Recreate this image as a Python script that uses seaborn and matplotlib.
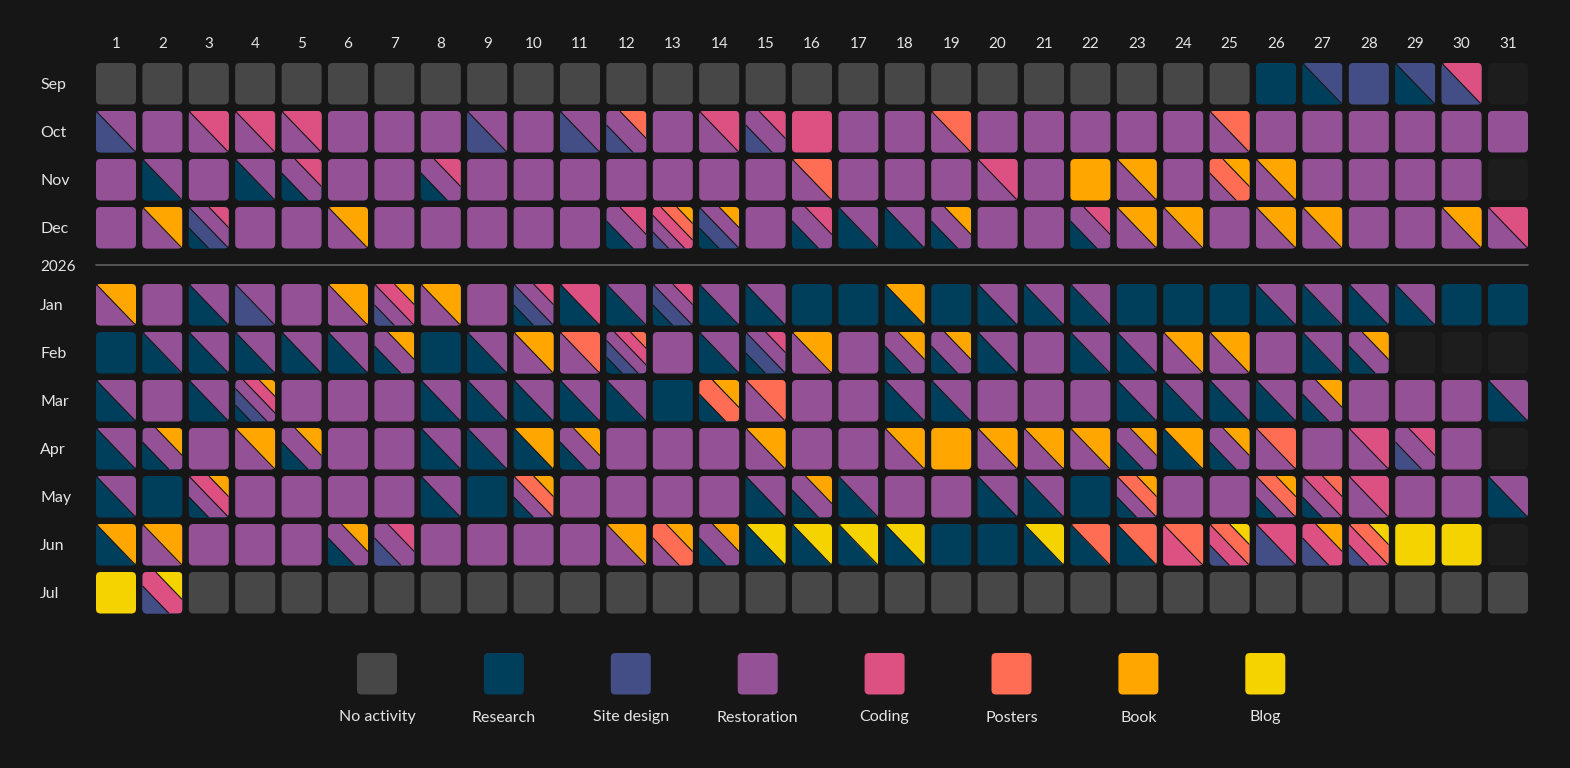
import matplotlib
matplotlib.use("Agg")
import matplotlib.pyplot as plt
from matplotlib.patches import FancyBboxPatch, Polygon
from matplotlib.lines import Line2D
import seaborn as sns

# ---------------- data ----------------
categories = ["No activity", "Research", "Site design", "Restoration",
              "Coding", "Posters", "Book", "Blog"]
codes = ["-", "R", "S", "T", "C", "P", "B", "L"]
palette = ["#474747", "#003f5c", "#444e86", "#955196",
           "#dd5182", "#ff6e54", "#ffa600", "#f5d300"]
months = ["Sep", "Oct", "Nov", "Dec", "Jan", "Feb", "Mar", "Apr", "May", "Jun", "Jul"]
day_labels = list(range(1, 32))
year_label = "2026"

sep = ["-"] * 25 + ["R", "RS", "S", "RS", "SC"]
oct_ = ["ST", "T", "TC", "TC", "TC", "T", "T", "T", "ST", "T",
        "ST", "STP", "T", "TC", "STC", "C", "T", "T", "TP", "T",
        "T", "T", "T", "T", "TP", "T", "T", "T", "T", "T", "T"]
nov = ["T", "RT", "T", "RT", "RTC", "T", "T", "RTC", "T", "T",
       "T", "T", "T", "T", "T", "TP", "T", "T", "T", "TC",
       "T", "B", "TB", "T", "TPB", "TB", "T", "T", "T", "T"]
dec = ["T", "TB", "RSTC", "T", "T", "TB", "T", "T", "T", "T",
       "T", "RTC", "STCPB", "RSTB", "T", "RTC", "RT", "RT", "RTB", "T",
       "T", "RTC", "TB", "TB", "T", "TB", "TB", "T", "T", "TB", "TC"]
jan = ["TB", "T", "RT", "ST", "T", "TB", "STCB", "TB", "T", "RSTC",
       "RC", "RT", "RSTC", "RT", "RT", "R", "R", "RB", "R", "RT",
       "RT", "RT", "R", "R", "R", "RT", "RT", "RT", "RT", "R", "R"]
feb = ["R", "RT", "RT", "RT", "RT", "RT", "RTB", "R", "RT", "TB",
       "TP", "RSTCP", "T", "RT", "RSTC", "TB", "T", "RTB", "RTB", "RT",
       "T", "RT", "RT", "TB", "TB", "T", "RT", "RTB"]
mar = ["RT", "T", "RT", "RSTCB", "T", "T", "T", "RT", "RT", "RT",
       "RT", "RT", "R", "RPB", "TP", "T", "T", "RT", "RT", "T",
       "T", "T", "RT", "RT", "RT", "RT", "RTB", "T", "T", "T", "RT"]
apr = ["RT", "RTB", "T", "TB", "RTB", "T", "T", "RT", "RT", "RB",
       "RTB", "T", "T", "T", "TB", "T", "T", "TB", "B", "TB",
       "TB", "TB", "RTB", "RB", "RTB", "TP", "T", "TC", "STC", "T"]
may = ["RT", "R", "RTCB", "T", "T", "T", "T", "RT", "R", "RTPB",
       "T", "T", "T", "T", "RT", "RTB", "RT", "T", "T", "RT",
       "RT", "R", "RTPB", "T", "T", "RTPB", "RTCP", "TC", "T", "T", "RT"]
jun = ["RB", "TB", "T", "T", "T", "RTB", "STC", "T", "T", "T",
       "T", "TB", "TPB", "RTB", "RL", "RL", "RL", "RL", "R", "R",
       "RL", "RP", "RP", "CP", "SCPL", "SC", "SCB", "SCPL", "L", "L"]
jul = ["L", "SCL"] + ["-"] * 29

month_data = [sep, oct_, nov, dec, jan, feb, mar, apr, may, jun, jul]

# ---------------- style ----------------
BG = "#161616"
EMPTY = "#1d1d1d"
TXT = "#e4e4e4"
sns.set_theme(style="dark", rc={"figure.facecolor": BG, "axes.facecolor": BG})
plt.rcParams["font.family"] = ["Lato", "DejaVu Sans"]

color_of = dict(zip(codes, palette))

fig = plt.figure(figsize=(15.7, 7.68), dpi=100)
ax = fig.add_axes([0, 0, 1, 1])
ax.set_xlim(0, 1570)
ax.set_ylim(768, 0)
ax.axis("off")

X0, DX, W = 96.0, 46.4, 40.0
H, RAD = 41.5, 4.5


def col_x(day):
    return X0 + (day - 1) * DX


def row_y(i):
    return 63 + 48 * i if i < 4 else 284 + 48 * (i - 4)


def clip_half(poly, f):
    """Keep points where f(p) >= 0 (Sutherland-Hodgman)."""
    out = []
    n = len(poly)
    for k in range(n):
        p, q = poly[k], poly[(k + 1) % n]
        fp, fq = f(p), f(q)
        if fp >= 0:
            out.append(p)
        if (fp >= 0) != (fq >= 0):
            t = fp / (fp - fq)
            out.append((p[0] + t * (q[0] - p[0]), p[1] + t * (q[1] - p[1])))
    return out


def band(a, b):
    sq = [(0, 0), (1, 0), (1, 1), (0, 1)]
    sq = clip_half(sq, lambda p: (p[0] - p[1]) - a)
    sq = clip_half(sq, lambda p: b - (p[0] - p[1]))
    return sq


def draw_cell(x, y, acts):
    base_col = EMPTY if acts is None else color_of[acts[0]]
    box = FancyBboxPatch((x, y), W, H, boxstyle=f"round,pad=0,rounding_size={RAD}",
                         facecolor=base_col, edgecolor="none", zorder=2)
    ax.add_patch(box)
    if acts is None or len(acts) < 2:
        return
    n = len(acts)
    for k, a in enumerate(acts):
        lo = -1 + 2 * k / n
        hi = -1 + 2 * (k + 1) / n
        pts = [(x + u * W, y + v * H) for u, v in band(lo, hi)]
        pg = Polygon(pts, closed=True, facecolor=color_of[a], edgecolor="none", zorder=3)
        ax.add_patch(pg)
        pg.set_clip_path(box)
    for k in range(1, n):
        c = -1 + 2 * k / n
        if c >= 0:
            u1, v1, u2, v2 = c, 0, 1, 1 - c
        else:
            u1, v1, u2, v2 = 0, -c, 1 + c, 1
        ln = Line2D([x + u1 * W, x + u2 * W], [y + v1 * H, y + v2 * H],
                    color="#141414", lw=0.8, zorder=4, solid_capstyle="butt")
        ax.add_line(ln)
        ln.set_clip_path(box)


for i, (m, data) in enumerate(zip(months, month_data)):
    y = row_y(i)
    ax.text(40, y + H / 2 + 5.5, m, color=TXT, fontsize=11.5, ha="left", va="baseline")
    for d in day_labels:
        acts = data[d - 1] if d <= len(data) else None
        draw_cell(col_x(d), y, acts)

for d in day_labels:
    ax.text(col_x(d) + W / 2, 47.5, str(d), color=TXT, fontsize=11,
            ha="center", va="baseline")

# year separator
ax.plot([col_x(1), col_x(31) + W], [265, 265], color="#5a5a5a", lw=1.3, zorder=1)
ax.text(40, 271, year_label, color=TXT, fontsize=11, ha="left", va="baseline")

# legend
LX0, LDX, LY = 377.0, 126.9, 653.0
for k, (name, col) in enumerate(zip(categories, palette)):
    cx = LX0 + k * LDX
    sw = FancyBboxPatch((cx - W / 2, LY), W, H, boxstyle=f"round,pad=0,rounding_size={RAD}",
                        facecolor=col, edgecolor="none", zorder=2)
    ax.add_patch(sw)
    ax.text(cx, 721.5, name, color=TXT, fontsize=11.5, ha="center", va="baseline")

fig.savefig("out.png", dpi=100, facecolor=BG)
